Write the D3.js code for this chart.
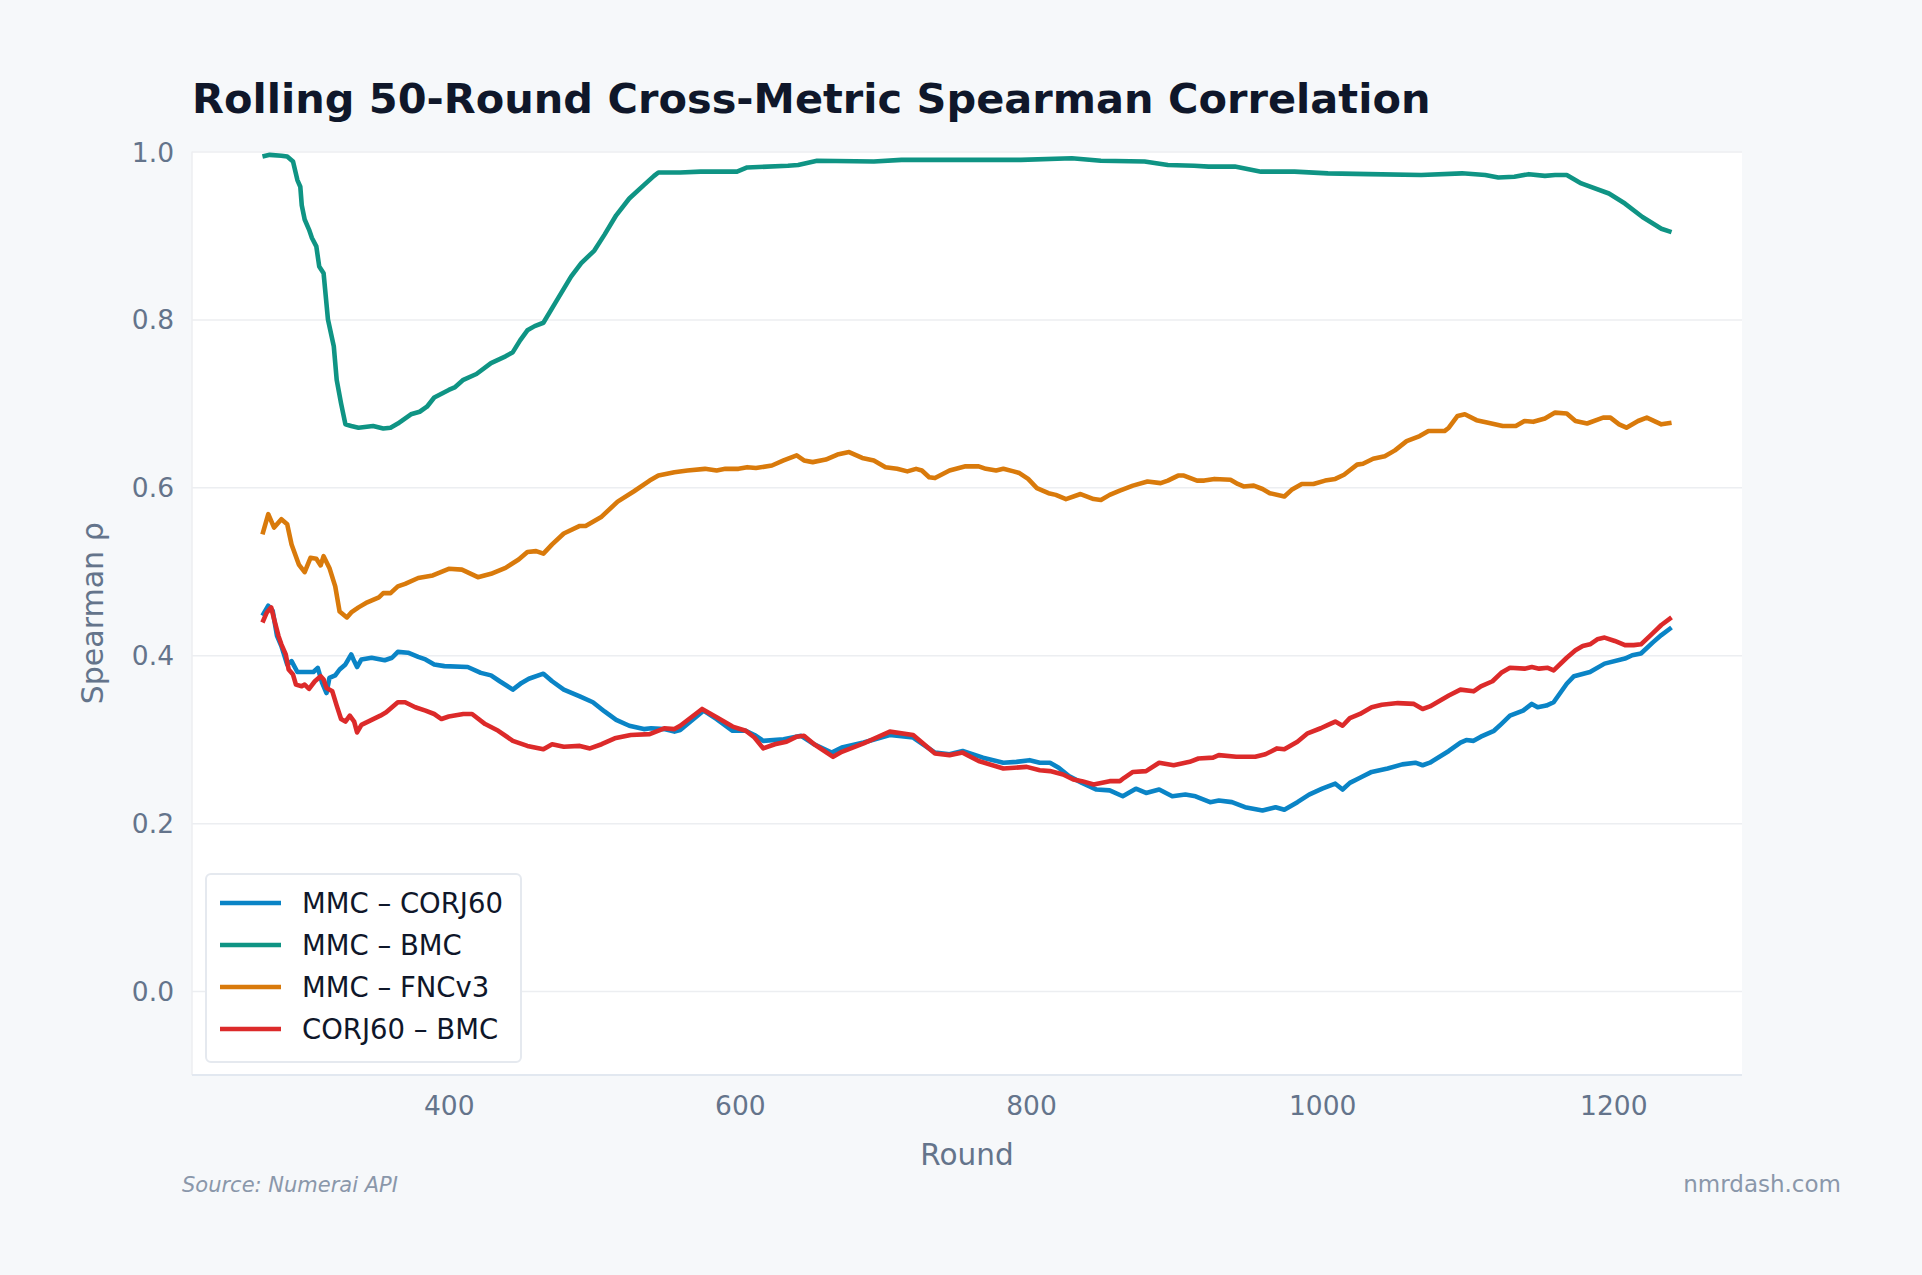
<html>
<head>
<meta charset="utf-8">
<script src="https://cdn.jsdelivr.net/npm/d3@7"></script>
<style>
  body { margin: 0; background: #f6f8fa; }
  svg { display: block; font-family: "DejaVu Sans", sans-serif; }
</style>
</head>
<body>
<svg id="chart" width="1922" height="1275"></svg>
<script>
// tick labels
var xTicks = [400, 600, 800, 1000, 1200];
var yTicks = [0.0, 0.2, 0.4, 0.6, 0.8, 1.0];

// legend / series names and colours
var seriesNames = ["MMC \u2013 CORJ60", "MMC \u2013 BMC", "MMC \u2013 FNCv3", "CORJ60 \u2013 BMC"];
var seriesColors = ["#0a84c6", "#0f9484", "#d97a0b", "#dc2a2a"];

// MMC - CORJ60
var corjRounds = [272,276,279,282,285,289,292,296,301,307,310,313,316,318,322,325,329,333,335,337,
  340,347,356,361,365,372,379,384,390,397,413,422,429,435,444,450,455,465,471,479,
  490,499,507,515,524,534,539,548,555,559,575,584,595,604,610,616,630,642,651,663,
  670,685,703,719,734,744,753,767,781,790,799,806,813,819,826,835,845,854,863,872,
  879,888,897,906,913,923,929,938,947,959,968,974,983,991,1000,1009,1014,1019,1026,1034,
  1045,1055,1064,1069,1074,1087,1095,1099,1104,1109,1118,1123,1129,1138,1144,1148,1154,1159,1168,1173,
  1184,1194,1208,1213,1219,1227,1233,1240];
var corjValues = [0.447,0.459,0.453,0.423,0.411,0.389,0.393,0.380,0.380,0.380,0.385,0.367,0.355,0.373,0.376,0.383,0.389,0.401,0.393,0.386,
  0.395,0.397,0.394,0.397,0.404,0.403,0.398,0.395,0.389,0.387,0.386,0.379,0.376,0.369,0.359,0.367,0.372,0.378,0.369,0.359,
  0.351,0.344,0.333,0.323,0.316,0.312,0.313,0.312,0.309,0.311,0.334,0.324,0.310,0.310,0.305,0.298,0.300,0.304,0.294,0.284,
  0.290,0.296,0.305,0.302,0.284,0.282,0.286,0.278,0.272,0.273,0.275,0.272,0.272,0.266,0.256,0.248,0.240,0.239,0.232,0.241,
  0.236,0.240,0.232,0.234,0.232,0.225,0.227,0.225,0.219,0.215,0.219,0.216,0.225,0.234,0.241,0.247,0.240,0.248,0.254,0.261,
  0.265,0.270,0.272,0.269,0.272,0.286,0.296,0.299,0.298,0.303,0.310,0.318,0.328,0.334,0.342,0.338,0.340,0.344,0.366,0.375,
  0.380,0.390,0.396,0.400,0.402,0.415,0.424,0.433];

// MMC - BMC
var bmcRounds = [272,277,285,289,293,296,298,299,301,304,306,309,311,314,317,321,323,326,329,333,
  338,348,355,360,365,374,380,385,390,400,404,410,419,429,439,444,449,454,459,465,
  474,484,491,500,507,515,524,534,541,544,559,573,598,605,633,640,653,692,711,757,
  793,828,848,878,894,912,922,940,958,981,1004,1032,1068,1096,1112,1121,1132,1142,1153,1160,
  1168,1178,1197,1208,1220,1233,1240];
var bmcValues = [0.994,0.996,0.995,0.994,0.988,0.966,0.958,0.936,0.919,0.907,0.897,0.887,0.863,0.855,0.800,0.768,0.728,0.700,0.675,0.673,
  0.671,0.673,0.670,0.671,0.676,0.687,0.690,0.696,0.707,0.716,0.719,0.728,0.735,0.748,0.756,0.761,0.775,0.787,0.792,0.796,
  0.822,0.851,0.867,0.882,0.901,0.924,0.944,0.960,0.971,0.975,0.975,0.976,0.976,0.981,0.983,0.984,0.989,0.988,0.990,0.990,
  0.990,0.992,0.989,0.988,0.984,0.983,0.982,0.982,0.976,0.976,0.974,0.973,0.972,0.974,0.972,0.969,0.970,0.973,0.971,0.972,
  0.972,0.962,0.950,0.938,0.922,0.908,0.904];

// MMC - FNCv3
var fncRounds = [272,276,280,285,289,292,297,301,305,309,312,314,318,322,325,330,333,338,344,352,
  355,360,365,370,379,389,400,409,420,429,439,448,454,460,465,471,479,490,494,505,
  516,527,538,544,555,564,576,584,590,599,605,611,622,630,639,644,650,659,667,675,
  684,692,700,708,715,721,725,730,734,744,755,764,769,776,781,788,792,798,804,812,
  817,824,834,843,848,854,861,870,880,889,894,901,905,914,919,926,937,942,946,953,
  959,964,974,979,986,994,1002,1009,1015,1024,1028,1035,1043,1050,1058,1067,1073,1084,1087,1093,
  1098,1106,1114,1124,1133,1139,1145,1153,1160,1168,1174,1182,1193,1198,1204,1209,1217,1223,1233,1240];
var fncValues = [0.544,0.568,0.552,0.562,0.556,0.532,0.508,0.499,0.516,0.515,0.507,0.518,0.504,0.482,0.452,0.445,0.451,0.457,0.463,0.469,
  0.474,0.474,0.482,0.485,0.492,0.495,0.503,0.502,0.493,0.497,0.504,0.514,0.523,0.524,0.521,0.532,0.545,0.554,0.554,0.565,
  0.583,0.595,0.608,0.614,0.618,0.620,0.622,0.620,0.622,0.622,0.624,0.623,0.626,0.632,0.638,0.632,0.630,0.633,0.639,0.642,
  0.635,0.632,0.624,0.622,0.619,0.622,0.620,0.612,0.611,0.620,0.625,0.625,0.622,0.620,0.622,0.619,0.617,0.610,0.599,0.593,
  0.591,0.586,0.592,0.586,0.585,0.591,0.596,0.602,0.607,0.605,0.608,0.614,0.614,0.608,0.608,0.610,0.609,0.604,0.601,0.602,
  0.598,0.593,0.589,0.597,0.604,0.604,0.608,0.610,0.615,0.627,0.628,0.634,0.637,0.644,0.655,0.661,0.667,0.667,0.671,0.685,
  0.687,0.680,0.677,0.673,0.673,0.679,0.678,0.682,0.689,0.688,0.679,0.676,0.683,0.683,0.675,0.671,0.679,0.683,0.675,0.677];

// CORJ60 - BMC
var corjBmcRounds = [272,275,278,280,283,285,288,290,293,295,299,301,304,308,312,314,316,320,323,326,
  329,332,335,337,340,347,353,357,365,370,377,384,390,395,400,410,416,425,434,444,
  454,465,471,479,490,497,505,514,525,538,548,555,559,574,584,595,604,610,616,624,
  632,639,644,651,664,670,685,703,719,734,744,753,764,781,797,806,813,822,829,835,
  843,854,861,864,870,879,888,898,909,915,925,929,941,954,961,969,974,983,990,999,
  1004,1009,1014,1019,1026,1034,1041,1052,1063,1069,1074,1087,1095,1104,1109,1117,1123,1129,1139,1144,
  1149,1155,1159,1168,1174,1179,1184,1189,1194,1201,1208,1214,1219,1227,1233,1240];
var corjBmcValues = [0.439,0.451,0.457,0.443,0.423,0.413,0.401,0.383,0.377,0.365,0.363,0.365,0.360,0.369,0.375,0.371,0.361,0.357,0.340,0.324,
  0.321,0.328,0.321,0.308,0.317,0.323,0.328,0.332,0.344,0.344,0.338,0.334,0.330,0.324,0.327,0.330,0.330,0.318,0.310,0.298,
  0.292,0.288,0.294,0.291,0.292,0.289,0.294,0.301,0.305,0.306,0.313,0.312,0.316,0.336,0.326,0.315,0.310,0.302,0.289,0.294,
  0.297,0.303,0.304,0.294,0.279,0.285,0.295,0.309,0.305,0.283,0.281,0.284,0.274,0.265,0.267,0.263,0.262,0.258,0.252,0.250,
  0.246,0.250,0.250,0.254,0.261,0.262,0.272,0.269,0.273,0.277,0.278,0.281,0.279,0.279,0.282,0.289,0.288,0.297,0.307,0.313,
  0.317,0.321,0.316,0.325,0.330,0.338,0.341,0.343,0.342,0.336,0.339,0.352,0.359,0.357,0.363,0.369,0.379,0.385,0.384,0.386,
  0.384,0.385,0.382,0.397,0.406,0.411,0.413,0.419,0.421,0.417,0.412,0.412,0.413,0.426,0.436,0.445];

var seriesRounds = [corjRounds, bmcRounds, fncRounds, corjBmcRounds];
var seriesValues = [corjValues, bmcValues, fncValues, corjBmcValues];

(function draw() {
  var series = seriesNames.map(function(name, i) {
    return {
      name: name,
      color: seriesColors[i],
      points: seriesRounds[i].map(function(r, j) { return {round: r, value: seriesValues[i][j]}; })
    };
  });

  var svg = d3.select("#chart");
  var pLeft = 192, pRight = 1742, pTop = 151.5, pBottom = 1075;
  var tickColor = "#64748b";

  // x domain padded 5% like the original
  var ext = d3.extent(d3.merge(seriesRounds));
  var pad = (ext[1] - ext[0]) * 0.05;
  var x = d3.scaleLinear().domain([ext[0] - pad, ext[1] + pad]).range([pLeft, pRight]);
  var y = d3.scaleLinear().domain([-0.1, 1.0]).range([pBottom, pTop]);

  // plot background
  svg.append("rect")
    .attr("x", pLeft).attr("y", pTop)
    .attr("width", pRight - pLeft).attr("height", pBottom - pTop)
    .attr("fill", "#ffffff");

  // horizontal grid
  svg.append("g")
    .attr("transform", "translate(" + pLeft + ",0)")
    .call(d3.axisLeft(y).tickValues(yTicks).tickSize(-(pRight - pLeft)).tickFormat(""))
    .call(function(g) {
      g.select(".domain").remove();
      g.selectAll("line").attr("stroke", "#eceef1").attr("stroke-width", 1.5);
    });

  // spines
  svg.append("line").attr("x1", pLeft).attr("x2", pLeft).attr("y1", pTop).attr("y2", pBottom)
    .attr("stroke", "#eceef1").attr("stroke-width", 1.5);
  svg.append("line").attr("x1", pLeft).attr("x2", pRight).attr("y1", pBottom).attr("y2", pBottom)
    .attr("stroke", "#e2e8f0").attr("stroke-width", 2);

  // y axis labels
  svg.append("g")
    .attr("transform", "translate(" + (pLeft - 18) + ",0)")
    .call(d3.axisLeft(y).tickValues(yTicks).tickSize(0).tickPadding(0).tickFormat(d3.format(".1f")))
    .call(function(g) {
      g.attr("font-family", null).attr("font-size", null);
      g.select(".domain").remove();
      g.selectAll("text").attr("dy", "0.36em")
        .attr("font-size", 26.5).attr("fill", tickColor);
    });

  // x axis labels
  svg.append("g")
    .attr("transform", "translate(0," + pBottom + ")")
    .call(d3.axisBottom(x).tickValues(xTicks).tickSize(0).tickPadding(0).tickFormat(d3.format("d")))
    .call(function(g) {
      g.attr("font-family", null).attr("font-size", null);
      g.select(".domain").remove();
      g.selectAll("text").attr("dy", null).attr("y", 40)
        .attr("font-size", 26.5).attr("fill", tickColor);
    });

  // lines
  var line = d3.line()
    .x(function(d) { return x(d.round); })
    .y(function(d) { return y(d.value); });

  svg.append("g").selectAll("path")
    .data(series)
    .enter().append("path")
    .attr("d", function(d) { return line(d.points); })
    .attr("fill", "none")
    .attr("stroke", function(d) { return d.color; })
    .attr("stroke-width", 4.6)
    .attr("stroke-linejoin", "round")
    .attr("stroke-linecap", "butt");

  // title
  svg.append("text")
    .attr("x", 192).attr("y", 113)
    .attr("font-size", 41.5).attr("font-weight", "bold")
    .attr("fill", "#0f172a")
    .text("Rolling 50-Round Cross-Metric Spearman Correlation");

  // axis titles
  svg.append("text")
    .attr("x", (pLeft + pRight) / 2).attr("y", 1165)
    .attr("text-anchor", "middle")
    .attr("font-size", 29.5).attr("fill", tickColor)
    .text("Round");

  svg.append("text")
    .attr("transform", "translate(103," + ((pTop + pBottom) / 2) + ") rotate(-90)")
    .attr("text-anchor", "middle")
    .attr("font-size", 30).attr("fill", tickColor)
    .text("Spearman \u03c1");

  // legend
  var legend = svg.append("g");
  legend.append("rect")
    .attr("x", 206).attr("y", 874)
    .attr("width", 315).attr("height", 188)
    .attr("rx", 5)
    .attr("fill", "#ffffff")
    .attr("stroke", "#e5e9ef").attr("stroke-width", 2);

  var rows = legend.selectAll("g.row")
    .data(series)
    .enter().append("g")
    .attr("class", "row")
    .attr("transform", function(d, i) { return "translate(0," + (903 + i * 42) + ")"; });

  rows.append("line")
    .attr("x1", 220).attr("x2", 281)
    .attr("stroke", function(d) { return d.color; })
    .attr("stroke-width", 4.6);

  rows.append("text")
    .attr("x", 302).attr("y", 10)
    .attr("font-size", 27.5).attr("fill", "#0f172a")
    .text(function(d) { return d.name; });

  // footer
  svg.append("text")
    .attr("x", 182).attr("y", 1192)
    .attr("font-size", 21).attr("font-style", "italic")
    .attr("fill", "#8a97aa")
    .text("Source: Numerai API");

  svg.append("text")
    .attr("x", 1841).attr("y", 1192)
    .attr("text-anchor", "end")
    .attr("font-size", 23).attr("fill", "#8a97aa")
    .text("nmrdash.com");
})();
</script>
</body>
</html>
